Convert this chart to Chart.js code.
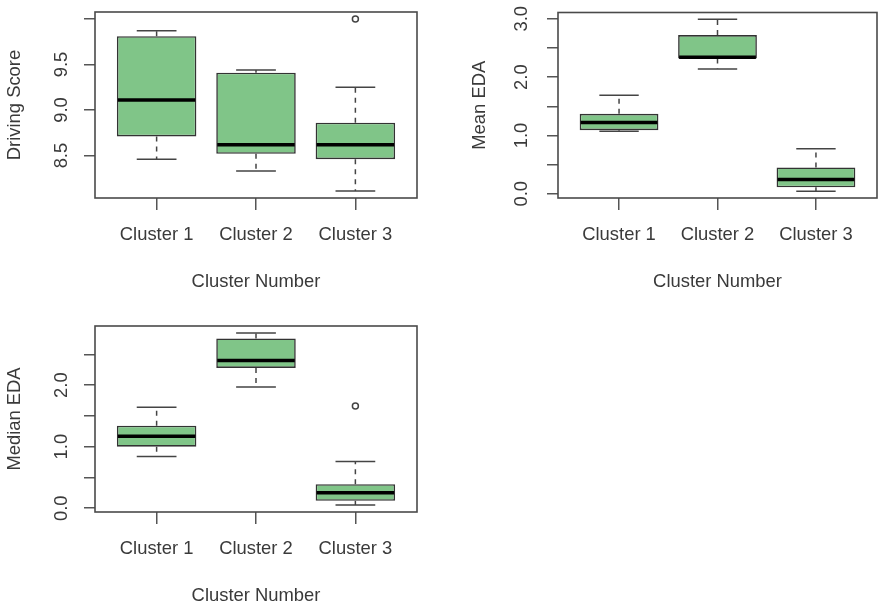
<!DOCTYPE html>
<html>
<head>
    <meta charset="utf-8">
    <title>Cluster boxplots</title>
    <script src="https://cdn.jsdelivr.net/npm/chart.js@4.4.1/dist/chart.umd.min.js"></script>
    <style>
        html, body { margin: 0; padding: 0; background: #fff; overflow: hidden; }
        .panel { position: absolute; }
    </style>
</head>
<body>

<div class="panel" style="left:0; top:0;"><canvas id="drivingChart" width="441" height="303"></canvas></div>
<div class="panel" style="left:463px; top:0;"><canvas id="meanChart" width="419" height="303"></canvas></div>
<div class="panel" style="left:0; top:314px;"><canvas id="medianChart" width="441" height="303"></canvas></div>

<script>
    const clusters = ['Cluster 1', 'Cluster 2', 'Cluster 3'];
    const xTitle = 'Cluster Number';

    // Driving Score
    const drivingLow  = [8.46, 8.33, 8.11];
    const drivingQ1   = [8.71, 8.52, 8.46];
    const drivingMed  = [9.11, 8.62, 8.62];
    const drivingQ3   = [9.81, 9.41, 8.86];
    const drivingHigh = [9.87, 9.44, 9.25];
    const drivingOut  = [[], [], [10.0]];
    const drivingTicks = [8.5, 9.0, 9.5, 10.0];
    const drivingTickLabels = ['8.5', '9.0', '9.5', ''];

    // Mean EDA
    const meanLow  = [1.07, 2.14, 0.045];
    const meanQ1   = [1.09, 2.32, 0.11];
    const meanMed  = [1.22, 2.34, 0.245];
    const meanQ3   = [1.37, 2.72, 0.45];
    const meanHigh = [1.69, 2.99, 0.77];
    const meanOut  = [[], [], []];
    const meanTicks = [0, 0.5, 1.0, 1.5, 2.0, 2.5, 3.0];
    const meanTickLabels = ['0.0', '', '1.0', '', '2.0', '', '3.0'];

    // Median EDA
    const medianLow  = [0.84, 1.97, 0.05];
    const medianQ1   = [1.00, 2.28, 0.12];
    const medianMed  = [1.17, 2.40, 0.25];
    const medianQ3   = [1.34, 2.76, 0.39];
    const medianHigh = [1.64, 2.85, 0.76];
    const medianOut  = [[], [], [1.66]];
    const medianTicks = [0, 0.5, 1.0, 1.5, 2.0, 2.5];
    const medianTickLabels = ['0.0', '', '1.0', '', '2.0', ''];

    const textColor = '#3a3a3a';
    const lineColor = '#444';
    const font = { family: 'Liberation Sans, Arial, sans-serif', size: 18.4 };

    function boxParts(low, q1, med, q3, high) {
        return {
            id: 'boxParts',
            afterDatasetsDraw(chart) {
                const ctx = chart.ctx;
                const x = chart.scales.x, y = chart.scales.y;
                const half = x.getPixelForValue(1.4) - x.getPixelForValue(1);
                ctx.save();
                for (let i = 0; i < med.length; i++) {
                    const px = x.getPixelForValue(i + 1);
                    // whiskers
                    ctx.strokeStyle = lineColor;
                    ctx.lineWidth = 1.5;
                    ctx.setLineDash([5, 5]);
                    ctx.beginPath();
                    ctx.moveTo(px, y.getPixelForValue(q3[i]));
                    ctx.lineTo(px, y.getPixelForValue(high[i]));
                    ctx.moveTo(px, y.getPixelForValue(q1[i]));
                    ctx.lineTo(px, y.getPixelForValue(low[i]));
                    ctx.stroke();
                    ctx.setLineDash([]);
                    // caps
                    ctx.beginPath();
                    [high[i], low[i]].forEach(v => {
                        const py = y.getPixelForValue(v);
                        ctx.moveTo(px - half / 2, py);
                        ctx.lineTo(px + half / 2, py);
                    });
                    ctx.stroke();
                    // median
                    ctx.strokeStyle = '#000';
                    ctx.lineWidth = 3.5;
                    ctx.beginPath();
                    const pm = y.getPixelForValue(med[i]);
                    ctx.moveTo(px - half + 1, pm);
                    ctx.lineTo(px + half - 1, pm);
                    ctx.stroke();
                }
                // plot frame
                const a = chart.chartArea;
                ctx.strokeStyle = '#4a4a4a';
                ctx.lineWidth = 1.6;
                ctx.strokeRect(a.left, a.top, a.right - a.left, a.bottom - a.top);
                ctx.restore();
            }
        };
    }

    function makePanel(id, low, q1, med, q3, high, out, yTitle, yTicks, yTickLabels, geom) {
        const all = low.concat(high, out.flat());
        const lo = Math.min(...all), hi = Math.max(...all);
        const ext = (hi - lo) * 0.04;

        const outliers = [];
        out.forEach((list, i) => list.forEach(v => outliers.push({ x: i + 1, y: v })));

        new Chart(document.getElementById(id), {
            type: 'bar',
            data: {
                datasets: [{
                    data: clusters.map((c, i) => ({ x: i + 1, y: [q1[i], q3[i]] })),
                    backgroundColor: '#80c588',
                    borderColor: '#333',
                    borderWidth: 1.6,
                    borderSkipped: false,
                    barPercentage: 0.8,
                    categoryPercentage: 1.0
                }, {
                    type: 'scatter',
                    data: outliers,
                    pointStyle: 'circle',
                    pointRadius: 3,
                    borderColor: lineColor,
                    backgroundColor: '#fff',
                    borderWidth: 1.5
                }]
            },
            options: {
                responsive: false,
                animation: false,
                devicePixelRatio: 1,
                layout: { padding: { left: 0, top: geom.top, right: geom.right, bottom: 0 } },
                plugins: { legend: { display: false }, tooltip: { enabled: false } },
                scales: {
                    x: {
                        type: 'linear',
                        min: 0.38,
                        max: 3.62,
                        bounds: 'data',
                        offset: false,
                        afterBuildTicks: sc => { sc.ticks = clusters.map((c, i) => ({ value: i + 1 })); },
                        afterFit: sc => { sc.height = 105; sc.paddingLeft = 0; sc.paddingRight = 0; },
                        ticks: {
                            callback: v => clusters[v - 1],
                            autoSkip: false, maxRotation: 0, padding: 14,
                            font: font, color: textColor
                        },
                        grid: { offset: false, drawOnChartArea: false, drawTicks: true, tickLength: 12, color: '#555', lineWidth: 1.5 },
                        border: { display: false },
                        title: { display: true, text: xTitle, font: font, color: textColor, padding: { top: 0, bottom: 10 } }
                    },
                    y: {
                        type: 'linear',
                        min: lo - ext,
                        max: hi + ext,
                        bounds: 'data',
                        afterBuildTicks: sc => { sc.ticks = yTicks.map(v => ({ value: v })); },
                        afterFit: sc => { sc.width = 95; sc.paddingTop = 0; sc.paddingBottom = 0; },
                        ticks: {
                            callback: (v, i) => yTickLabels[i],
                            autoSkip: false, minRotation: 90, maxRotation: 90,
                            crossAlign: 'center', padding: geom.labelPad,
                            font: font, color: textColor
                        },
                        grid: { drawOnChartArea: false, drawTicks: true, tickLength: 11, color: '#555', lineWidth: 1.5 },
                        border: { display: false },
                        title: { display: true, text: yTitle, font: font, color: textColor, padding: { top: geom.titlePad, bottom: 0 } }
                    }
                }
            },
            plugins: [boxParts(low, q1, med, q3, high)]
        });
    }

    makePanel('drivingChart', drivingLow, drivingQ1, drivingMed, drivingQ3, drivingHigh, drivingOut,
        'Driving Score', drivingTicks, drivingTickLabels, { top: 12, right: 24, labelPad: 9, titlePad: 4 });
    makePanel('meanChart', meanLow, meanQ1, meanMed, meanQ3, meanHigh, meanOut,
        'Mean EDA', meanTicks, meanTickLabels, { top: 12.5, right: 5, labelPad: 12, titlePad: 6 });
    makePanel('medianChart', medianLow, medianQ1, medianMed, medianQ3, medianHigh, medianOut,
        'Median EDA', medianTicks, medianTickLabels, { top: 12, right: 24, labelPad: 9, titlePad: 4 });
</script>

</body>
</html>
